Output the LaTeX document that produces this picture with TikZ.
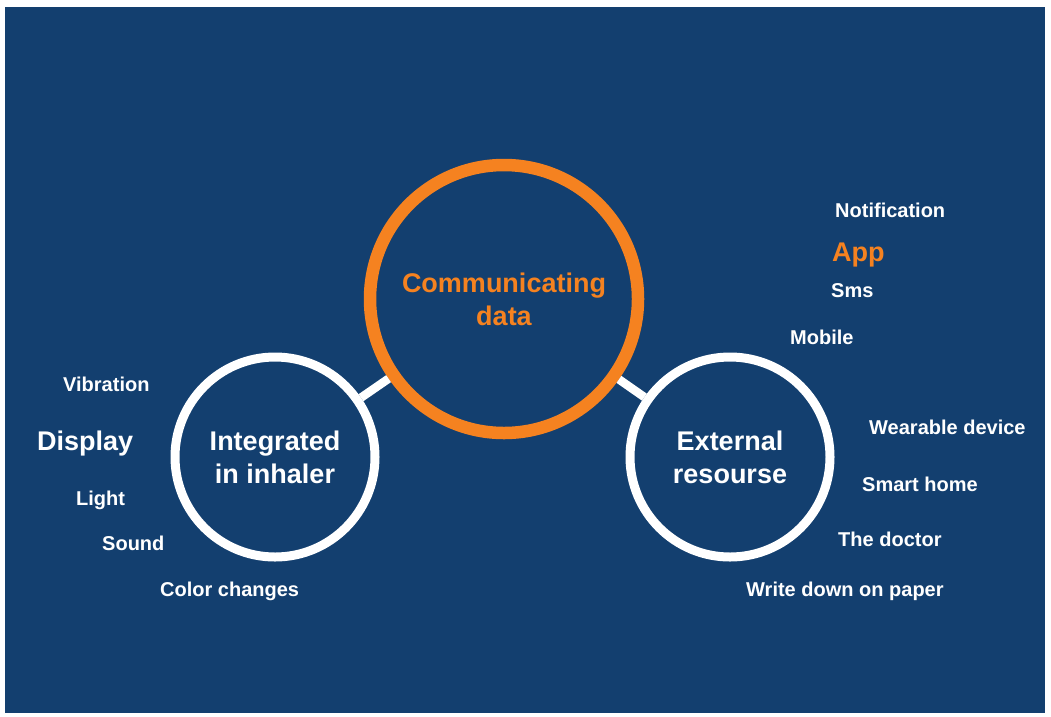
\documentclass[tikz,border=0pt]{standalone}
\usepackage{fontspec}
\setmainfont{Liberation Sans}
\definecolor{bgblue}{RGB}{19,63,111}
\definecolor{accent}{RGB}{245,130,32}
\begin{document}
\begin{tikzpicture}[x=1pt,y=-1pt,
  ring/.style={circle, draw=white, line width=9pt, minimum size=200pt, inner sep=0pt, text=white, align=center, font=\fontsize{27}{33}\selectfont\bfseries},
  link/.style={draw=white, line width=8.5pt},
  lbl/.style={anchor=base west, inner sep=0pt, text=white, font=\fontsize{20}{24}\selectfont\bfseries},
  biglbl/.style={anchor=base west, inner sep=0pt, font=\fontsize{27}{33}\selectfont\bfseries}]
\useasboundingbox[fill=white] (0,0) rectangle (1051,716);
\fill[bgblue] (5,7) rectangle (1045,713);
\node[ring, draw=accent, line width=12.5pt, minimum size=268pt, text=accent] (C) at (504,299) {Communicating\\data};
\node[ring] (L) at (275,457) {Integrated\\in inhaler};
\node[ring] (R) at (730,457) {External\\resourse};
\draw[link] (L) -- (C);
\draw[link] (R) -- (C);
% right labels
\node[lbl] (n1) at (835,217) {Notification};
\node[biglbl, text=accent] (n2) at (832,261) {App};
\node[lbl] (n3) at (831,297) {Sms};
\node[lbl] (n4) at (790,344) {Mobile};
\node[lbl] (n5) at (869,434) {Wearable device};
\node[lbl] (n6) at (862,491) {Smart home};
\node[lbl] (n7) at (838,546) {The doctor};
\node[lbl] (n8) at (746,596) {Write down on paper};
% left labels
\node[lbl] (m1) at (63,391) {Vibration};
\node[biglbl, text=white] (m2) at (37,450) {Display};
\node[lbl] (m3) at (76,505) {Light};
\node[lbl] (m4) at (102,550) {Sound};
\node[lbl] (m5) at (160,596) {Color changes};
\end{tikzpicture}
\end{document}
